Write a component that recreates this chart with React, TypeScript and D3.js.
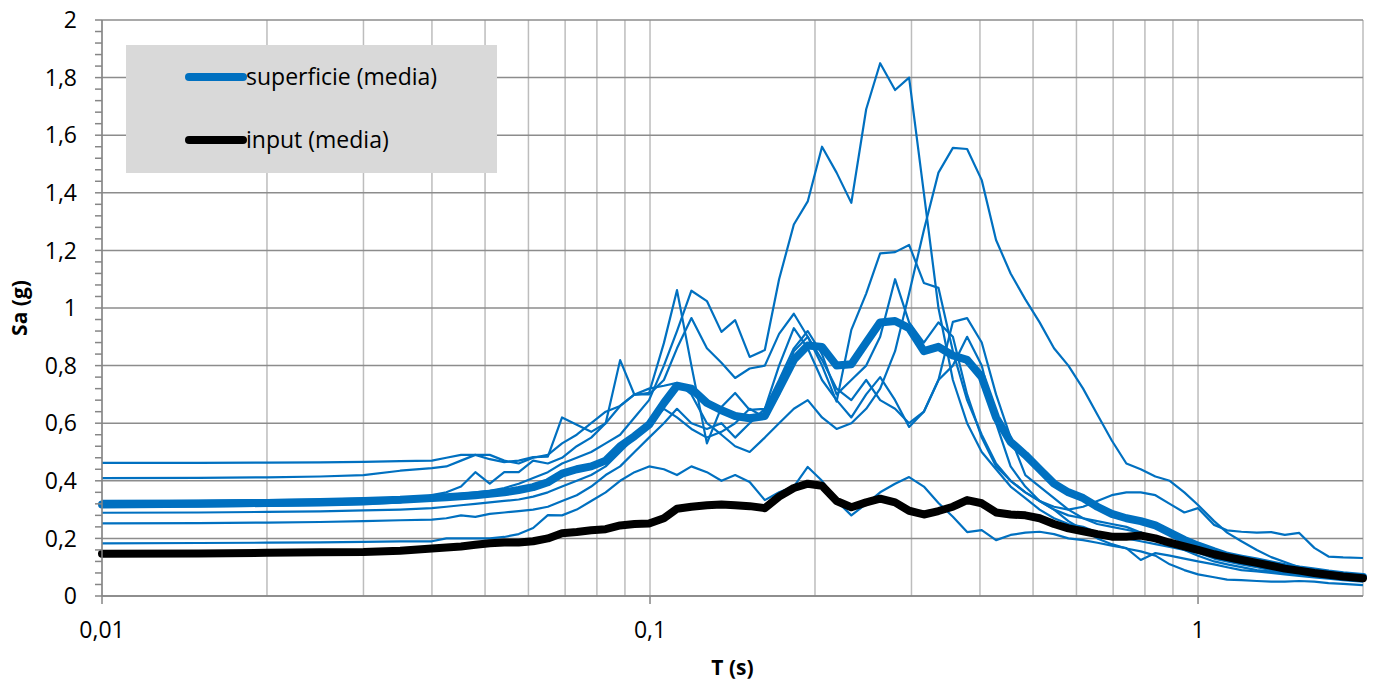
import { useEffect } from 'react';
import * as d3 from 'd3';

const WIDTH = 1373;
const HEIGHT = 689;
const MARGIN = { top: 20, right: 10, bottom: 93, left: 102 };

// periodi (s)
const PERIODS = [
  0.01, 0.015, 0.02, 0.025, 0.03, 0.035,
  0.04, 0.0425, 0.0452, 0.048, 0.051, 0.0542, 0.0576, 0.0612, 0.0651,
  0.0691, 0.0735, 0.0781, 0.083, 0.0882, 0.0937, 0.0996, 0.106, 0.112, 0.119, 0.127, 0.135, 0.143,
  0.152, 0.162, 0.172, 0.183, 0.194, 0.206, 0.219, 0.233, 0.248, 0.263, 0.28, 0.297, 0.316, 0.336, 0.357, 0.379, 0.403,
  0.428, 0.455, 0.484, 0.514, 0.546, 0.58, 0.617, 0.655, 0.696, 0.74, 0.786, 0.836, 0.888, 0.944,
  1.0, 1.07, 1.13, 1.2, 1.28, 1.36, 1.44, 1.53, 1.63, 1.73, 1.84, 2.0,
];

// spettri delle singole registrazioni in superficie (g)
const REC_1 = [
  0.462, 0.462, 0.463, 0.464, 0.466, 0.468,
  0.47, 0.48, 0.49, 0.49, 0.475, 0.465, 0.47, 0.482, 0.484,
  0.62, 0.595, 0.57, 0.6, 0.66, 0.7, 0.7, 0.75, 0.86, 0.965, 0.86, 0.81, 0.757,
  0.79, 0.8, 0.91, 0.98, 0.9, 0.82, 0.72, 0.68, 0.75, 0.68, 0.65, 0.6, 0.64, 0.75, 0.952, 0.965, 0.88,
  0.7, 0.55, 0.42, 0.38, 0.34, 0.3, 0.27, 0.25, 0.24, 0.23, 0.22, 0.2, 0.19, 0.18,
  0.165, 0.15, 0.135, 0.12, 0.11, 0.1, 0.09, 0.082, 0.075, 0.068, 0.062, 0.055,
];
const REC_2 = [
  0.409, 0.41, 0.412, 0.415, 0.42, 0.435,
  0.444, 0.45, 0.47, 0.49, 0.49, 0.47, 0.46, 0.48, 0.49,
  0.53, 0.56, 0.6, 0.64, 0.66, 0.7, 0.72, 0.73, 0.74, 0.7, 0.6, 0.56, 0.52,
  0.5, 0.55, 0.6, 0.65, 0.68, 0.62, 0.58, 0.6, 0.65, 0.72, 0.85, 1.05, 1.27, 1.47, 1.556, 1.552, 1.444,
  1.236, 1.12, 1.03, 0.95, 0.86, 0.8, 0.72, 0.63, 0.54, 0.46, 0.44, 0.415, 0.4, 0.36,
  0.316, 0.26, 0.22, 0.19, 0.16, 0.135, 0.118, 0.1, 0.088, 0.078, 0.07, 0.062,
];
const REC_3 = [
  0.33, 0.331, 0.333, 0.335, 0.338, 0.34,
  0.345, 0.35, 0.355, 0.36, 0.365, 0.375, 0.39, 0.41, 0.43,
  0.46, 0.48, 0.5, 0.53, 0.56, 0.62, 0.68, 0.8, 0.92, 1.06, 1.024, 0.917, 0.958,
  0.83, 0.854, 1.1, 1.29, 1.37, 1.56, 1.47, 1.365, 1.69, 1.85, 1.757, 1.8, 1.4, 1.0, 0.75, 0.6, 0.5,
  0.44, 0.38, 0.34, 0.3, 0.27, 0.25, 0.24, 0.22, 0.21, 0.2, 0.19, 0.18, 0.17, 0.16,
  0.15, 0.13, 0.12, 0.11, 0.1, 0.09, 0.08, 0.075, 0.07, 0.065, 0.06, 0.055,
];
const REC_4 = [
  0.31, 0.311, 0.313, 0.315, 0.318, 0.325,
  0.35, 0.36, 0.38, 0.43, 0.39, 0.43, 0.43, 0.47, 0.46,
  0.48, 0.52, 0.55, 0.6, 0.819, 0.698, 0.705, 0.878, 1.062, 0.8, 0.53, 0.656, 0.705,
  0.646, 0.65, 0.75, 0.86, 0.92, 0.84, 0.7, 0.75, 0.8, 0.9, 1.1, 0.95, 0.88, 0.95, 0.9, 0.7, 0.55,
  0.45, 0.4, 0.36, 0.33, 0.3, 0.28, 0.27, 0.26, 0.25, 0.24, 0.22, 0.2, 0.18, 0.16,
  0.14, 0.12, 0.11, 0.1, 0.09, 0.085, 0.08, 0.075, 0.07, 0.065, 0.06, 0.055,
];
const REC_5 = [
  0.289, 0.29, 0.292, 0.294, 0.297, 0.3,
  0.305, 0.31, 0.315, 0.32, 0.325, 0.33, 0.335, 0.345, 0.36,
  0.38, 0.4, 0.42, 0.45, 0.5, 0.55, 0.6, 0.65, 0.62, 0.58, 0.55, 0.57, 0.6,
  0.65, 0.62, 0.7, 0.85, 0.9, 0.8, 0.675, 0.924, 1.05, 1.19, 1.194, 1.219, 1.087, 1.07, 0.85, 0.68, 0.56,
  0.46, 0.4, 0.36, 0.33, 0.31, 0.3, 0.31, 0.33, 0.35, 0.36, 0.36, 0.35, 0.32, 0.29,
  0.305, 0.247, 0.228, 0.223, 0.22, 0.222, 0.212, 0.219, 0.167, 0.137, 0.134, 0.132,
];
const REC_6 = [
  0.252, 0.253, 0.255, 0.257, 0.26, 0.263,
  0.265, 0.27, 0.28, 0.275, 0.285, 0.29, 0.295, 0.3, 0.31,
  0.33, 0.35, 0.38, 0.42, 0.45, 0.5, 0.55, 0.6, 0.65, 0.6, 0.58, 0.6, 0.55,
  0.6, 0.65, 0.8, 0.93, 0.86, 0.75, 0.68, 0.62, 0.7, 0.76, 0.68, 0.587, 0.64, 0.75, 0.8, 0.9, 0.8,
  0.6, 0.45, 0.38, 0.33, 0.3, 0.26, 0.23, 0.2, 0.18, 0.165, 0.155, 0.14, 0.11, 0.09,
  0.075, 0.065, 0.057, 0.055, 0.052, 0.05, 0.05, 0.052, 0.05, 0.045, 0.042, 0.038,
];
const REC_7 = [
  0.183, 0.184, 0.185, 0.186, 0.188, 0.19,
  0.19, 0.2, 0.2, 0.2, 0.2, 0.205, 0.215, 0.236, 0.281,
  0.28, 0.3, 0.33, 0.36, 0.4, 0.43, 0.45, 0.44, 0.42, 0.45, 0.43, 0.4, 0.42,
  0.396, 0.333, 0.36, 0.38, 0.448, 0.4, 0.33, 0.28, 0.32, 0.36, 0.39, 0.413, 0.38, 0.323, 0.275, 0.222, 0.229,
  0.194, 0.212, 0.22, 0.223, 0.215, 0.2, 0.194, 0.185, 0.175, 0.166, 0.125, 0.149, 0.14, 0.13,
  0.12, 0.11, 0.1, 0.09, 0.085, 0.08, 0.075, 0.07, 0.065, 0.06, 0.055, 0.05,
];

// superficie (media)
const SURFACE_MEAN = [
  0.318, 0.32, 0.323, 0.326, 0.33, 0.334,
  0.34, 0.343, 0.346, 0.35, 0.355, 0.36, 0.368, 0.378, 0.395,
  0.425, 0.44, 0.45, 0.47, 0.52, 0.555, 0.595, 0.67, 0.73, 0.72, 0.67, 0.645, 0.625,
  0.617, 0.625, 0.72, 0.82, 0.87, 0.865, 0.8, 0.805, 0.88, 0.95, 0.955, 0.93, 0.85, 0.865, 0.835, 0.82, 0.76,
  0.62, 0.535, 0.49, 0.44, 0.39, 0.36, 0.34, 0.31, 0.285, 0.27, 0.26, 0.245, 0.22, 0.195,
  0.175, 0.155, 0.14, 0.13, 0.12, 0.11, 0.1, 0.092, 0.085, 0.078, 0.072, 0.066,
];

// input (media)
const INPUT_MEAN = [
  0.147, 0.148, 0.15, 0.152, 0.153, 0.157,
  0.165, 0.168, 0.172, 0.178, 0.183, 0.186, 0.186, 0.19, 0.2,
  0.218, 0.222, 0.228, 0.232, 0.245, 0.25, 0.252, 0.27, 0.303, 0.31, 0.315, 0.318, 0.315,
  0.312, 0.305, 0.345, 0.375, 0.39, 0.383, 0.33, 0.308, 0.325, 0.338, 0.325, 0.296, 0.283, 0.295, 0.31, 0.333, 0.322,
  0.29, 0.283, 0.28, 0.27, 0.25, 0.235, 0.225, 0.215, 0.206, 0.206, 0.21, 0.2, 0.185, 0.172,
  0.16, 0.145, 0.135, 0.125, 0.115, 0.105, 0.095, 0.088, 0.08, 0.074, 0.068, 0.062,
];

const RECORDS = [REC_1, REC_2, REC_3, REC_4, REC_5, REC_6, REC_7];

const Y_TICKS = [0, 0.2, 0.4, 0.6, 0.8, 1, 1.2, 1.4, 1.6, 1.8, 2];
const X_TICKS = [0.01, 0.1, 1];

const BLUE = '#0070c0';
const AXIS = '#868686';
const GRID_H = '#8c8c8c';
const GRID_V = '#bdbdbd';
const FONT = "'Open Sans', sans-serif";

const fmt = (v: number) => String(v).replace('.', ',');

export default function App() {
  useEffect(() => {
    document.body.style.margin = '0';
  }, []);

  const x = d3.scaleLog().domain([0.01, 2]).range([MARGIN.left, WIDTH - MARGIN.right]);
  const y = d3.scaleLinear().domain([0, 2]).range([HEIGHT - MARGIN.bottom, MARGIN.top]);

  const line = d3
    .line<number>()
    .x((_, i) => x(PERIODS[i]))
    .y((d) => y(d));

  const x0 = x.range()[0];
  const x1 = x.range()[1];
  const y0 = y.range()[0];
  const y1 = y.range()[1];
  const minorY = d3.range(0, 2.0001, 0.04);

  return (
    <svg width={WIDTH} height={HEIGHT} style={{ display: 'block', background: '#fff' }} fontFamily={FONT}>
      {/* griglia verticale (log) */}
      {x.ticks().map((t) => (
        <line key={'v' + t} x1={x(t)} x2={x(t)} y1={y1} y2={y0} stroke={GRID_V} strokeWidth={1.5} />
      ))}
      {/* griglia orizzontale */}
      {Y_TICKS.map((t) => (
        <line key={'h' + t} x1={x0} x2={x1} y1={y(t)} y2={y(t)} stroke={GRID_H} strokeWidth={1.5} />
      ))}

      {/* registrazioni */}
      {RECORDS.map((r, i) => (
        <path key={'r' + i} d={line(r) ?? ''} fill="none" stroke={BLUE} strokeWidth={2.2} strokeLinejoin="round" />
      ))}
      <path d={line(SURFACE_MEAN) ?? ''} fill="none" stroke={BLUE} strokeWidth={8} strokeLinejoin="round" strokeLinecap="round" />
      <path d={line(INPUT_MEAN) ?? ''} fill="none" stroke="#000" strokeWidth={8} strokeLinejoin="round" strokeLinecap="round" />

      {/* assi */}
      <line x1={x0} x2={x0} y1={y1} y2={y0} stroke={AXIS} strokeWidth={1.5} />
      <line x1={x0} x2={x1} y1={y0} y2={y0} stroke={AXIS} strokeWidth={1.5} />
      {minorY.map((t) => (
        <line key={'mt' + t} x1={x0 - 7} x2={x0} y1={y(t)} y2={y(t)} stroke={AXIS} strokeWidth={1.5} />
      ))}
      {X_TICKS.map((t) => (
        <line key={'xt' + t} x1={x(t)} x2={x(t)} y1={y0} y2={y0 + 8} stroke={AXIS} strokeWidth={1.5} />
      ))}

      {Y_TICKS.map((t) => (
        <text key={'yl' + t} x={77} y={y(t)} dy="0.36em" textAnchor="end" fontSize={23} fill="#000">
          {fmt(t)}
        </text>
      ))}
      {X_TICKS.map((t) => (
        <text key={'xl' + t} x={x(t)} y={638} textAnchor="middle" fontSize={23} fill="#000">
          {fmt(t)}
        </text>
      ))}

      <text x={(x0 + x1) / 2} y={675} textAnchor="middle" fontSize={21} fontWeight="bold">
        T (s)
      </text>
      <text transform={`translate(27,${(y0 + y1) / 2}) rotate(-90)`} textAnchor="middle" fontSize={21} fontWeight="bold">
        Sa (g)
      </text>

      {/* legenda */}
      <rect x={126} y={45} width={371} height={128} fill="#d9d9d9" />
      <line x1={189} x2={243} y1={77} y2={77} stroke={BLUE} strokeWidth={8} strokeLinecap="round" />
      <text x={246} y={85} fontSize={23}>superficie (media)</text>
      <line x1={189} x2={243} y1={140} y2={140} stroke="#000" strokeWidth={8} strokeLinecap="round" />
      <text x={246} y={148} fontSize={23}>input (media)</text>
    </svg>
  );
}
